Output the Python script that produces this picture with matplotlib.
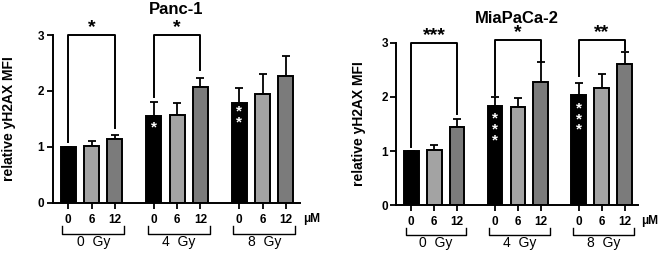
import numpy as np
import matplotlib
matplotlib.use('Agg')
from matplotlib import pyplot as plt
from matplotlib import transforms

plt.rcParams['font.family'] = ['Liberation Sans', 'DejaVu Sans']

doses = ['0', '6', '12']
groups = ['0  Gy', '4  Gy', '8  Gy']
colors = ['#000000', '#a3a3a3', '#7b7b7b']

panc_mean = [1.00, 1.02, 1.14, 1.56, 1.57, 2.07, 1.78, 1.95, 2.26]
panc_err = [0.00, 0.08, 0.07, 0.24, 0.21, 0.16, 0.27, 0.35, 0.37]
mia_mean = [1.00, 1.02, 1.45, 1.83, 1.82, 2.28, 2.03, 2.16, 2.60]
mia_err = [0.00, 0.10, 0.15, 0.16, 0.15, 0.36, 0.22, 0.26, 0.23]

# (group, label, left leg bottom, right leg bottom, top)
panc_sig = [(0, '*', 1.09, 1.33, 3.0), (1, '*', 1.89, 2.37, 3.0)]
mia_sig = [(0, '***', 1.08, 1.68, 3.0), (1, '*', 2.03, 2.65, 3.05), (2, '**', 2.39, 2.86, 3.05)]

# white stars inside bars: bar index -> (label, centre y)
panc_inner = {3: ('*', 1.34), 6: ('*\n*', 1.53)}
mia_inner = {3: ('*\n*\n*', 1.40), 6: ('*\n*\n*', 1.59)}

gap = 3.65
x = np.array([g * gap + i for g in range(3) for i in range(3)])

fig = plt.figure(figsize=(6.58, 2.54), dpi=100)
ax1 = fig.add_axes([0.080, 0.202, 0.376, 0.660])
ax2 = fig.add_axes([0.602, 0.192, 0.368, 0.640])


def draw(ax, mean, err, sig, inner, ylab_x):
    cols = colors * 3
    ax.errorbar(x, mean, yerr=[np.zeros(len(err)), err], fmt='none',
                ecolor='black', elinewidth=1.3, capsize=3, capthick=1.3, zorder=1)
    ax.bar(x, mean, width=0.64, color=cols, edgecolor='black', linewidth=1.4, zorder=2)
    ax.set_xlim(-0.66, x[-1] + 0.6)
    ax.set_ylim(0, 3)
    ax.set_yticks([0, 1, 2, 3])
    ax.set_xticks(x)
    ax.set_xticklabels(doses * 3, fontweight='bold', fontsize=8.5)
    for lab in ax.get_yticklabels():
        lab.set_fontweight('bold')
        lab.set_fontsize(8.5)
    ax.tick_params(axis='both', width=1.3, length=4, pad=2)
    ax.tick_params(axis='x', pad=4)
    for s in ['top', 'right']:
        ax.spines[s].set_visible(False)
    for s in ['left', 'bottom']:
        ax.spines[s].set_linewidth(1.4)
    ax.set_ylabel('relative yH2AX MFI', fontweight='bold', fontsize=10)
    ax.yaxis.set_label_coords(ylab_x, 0.5)

    for g, lab, yl, yr, top in sig:
        x0, x1 = x[g * 3], x[g * 3 + 2]
        ax.plot([x0, x0, x1, x1], [yl, top, top, yr], color='black', lw=1.4,
                clip_on=False, zorder=3)
        ax.text((x0 + x1) / 2, top - 0.02, lab, ha='center', va='bottom',
                fontsize=14, fontweight='bold')

    for i, (lab, yy) in inner.items():
        ax.text(x[i], yy, lab, ha='center', va='center', color='white',
                fontsize=11, fontweight='bold', linespacing=0.7, zorder=4)

    trans = transforms.blended_transform_factory(ax.transData, ax.transAxes)
    for g in range(3):
        x0 = x[g * 3] - 0.25
        x1 = x[g * 3 + 2] + 0.4
        ax.plot([x0, x0, x1, x1], [-0.14, -0.185, -0.185, -0.14], color='black',
                lw=1.0, transform=trans, clip_on=False)
        ax.text((x0 + x1) / 2, -0.19, groups[g], ha='center', va='top',
                fontsize=10, transform=trans)
    ax.text(1.012, -0.095, 'μM', ha='left', va='center', fontsize=8.5,
            fontweight='bold', transform=ax.transAxes)


draw(ax1, panc_mean, panc_err, panc_sig, panc_inner, -0.148)
draw(ax2, mia_mean, mia_err, mia_sig, mia_inner, -0.126)

fig.text(0.267, 0.961, 'Panc-1', ha='center', va='center', fontsize=12, fontweight='bold')
fig.text(0.786, 0.929, 'MiaPaCa-2', ha='center', va='center', fontsize=12, fontweight='bold')

fig.savefig('out.png', dpi=100)
